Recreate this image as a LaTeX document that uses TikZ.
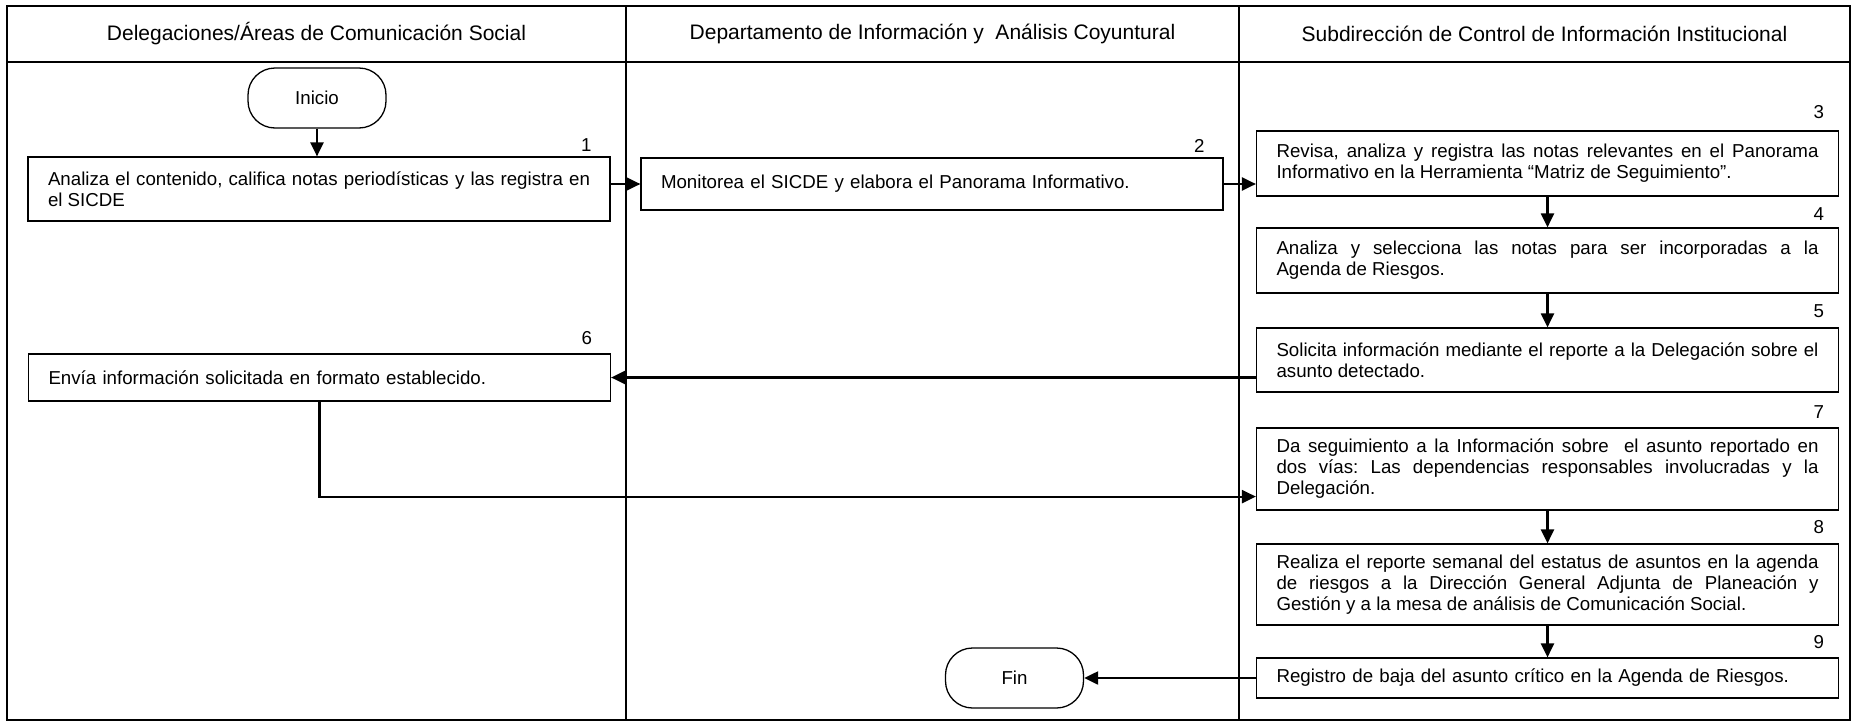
\documentclass[tikz,border=0pt]{standalone}
\usepackage{fontspec}
\setmainfont{Liberation Sans}
\usetikzlibrary{arrows.meta,calc}
\hyphenpenalty=10000
\exhyphenpenalty=10000
\frenchspacing
\newcommand\stepfont{\fontsize{18.7}{21}\selectfont}
\newcommand\headfont{\fontsize{21}{24}\selectfont}

\tikzset{
  lane/.style={line width=1.4pt, line cap=rect},
  head/.style={font=\headfont, inner sep=0pt},
  stepbox/.style={draw, line width=1.2pt, font=\stepfont, text width=542pt,
    inner xsep=20pt, inner ysep=0pt, align=justify},
  onebox/.style={stepbox, align=left},
  term/.style={draw, line width=1.3pt, rounded corners=27pt, font=\stepfont,
    minimum width=138pt, minimum height=60pt, inner sep=0pt},
  num/.style={font=\stepfont, inner sep=0pt, anchor=base east},
  arr/.style={line width=2.2pt, -{Triangle[length=14pt,width=13pt]}}
}

\begin{document}
\begin{tikzpicture}[x=1pt, y=-1pt]
  \fill[white] (0,0) rectangle (1856,726);
  \useasboundingbox (0,0) rectangle (1856,726);

  % swimlane frame
  \draw[lane] (7,6) rectangle (1850,720);
  \draw[lane] (7,62) -- (1850,62);
  \draw[lane] (626,6) -- (626,720);
  \draw[lane] (1239,6) -- (1239,720);

  % lane titles
  \node[head] (h1) at (316.5,34) {Delegaciones/Áreas de Comunicación Social};
  \node[head] (h2) at (932.5,34) {Departamento de Información y~ Análisis Coyuntural};
  \node[head] (h3) at (1544.5,34) {Subdirección de Control de Información Institucional};

  % terminals
  \node[term] (ini) at (317,98) {Inicio};
  \node[term] (fin) at (1014.5,678) {Fin};

  % process steps
  \node[stepbox, minimum height=64pt] (b1) at (319,189)
    {Analiza el contenido, califica notas periodísticas y las registra en\linebreak el SICDE};
  \node[onebox, minimum height=52pt] (b2) at (932,184)
    {Monitorea el SICDE y elabora el Panorama Informativo.};
  \node[stepbox, minimum height=65pt] (b3) at (1547.5,163.5)
    {Revisa, analiza y registra las notas relevantes en el Panorama\linebreak Informativo en la Herramienta “Matriz de Seguimiento”.};
  \node[stepbox, minimum height=65pt] (b4) at (1547.5,260.5)
    {Analiza y selecciona las notas para ser incorporadas a la\linebreak Agenda de Riesgos.};
  \node[stepbox, minimum height=64pt] (b5) at (1547.5,360)
    {Solicita información mediante el reporte a la Delegación sobre el\linebreak asunto detectado.};
  \node[onebox, minimum height=47pt] (b6) at (319.5,377.5)
    {Envía información solicitada en formato establecido.};
  \node[stepbox, minimum height=82pt] (b7) at (1547.5,469)
    {Da seguimiento a la Información sobre~ el asunto reportado en\linebreak dos vías: Las dependencias responsables involucradas y la\linebreak Delegación.};
  \node[stepbox, minimum height=81pt] (b8) at (1547.5,584.5)
    {Realiza el reporte semanal del estatus de asuntos en la agenda\linebreak de riesgos a la Dirección General Adjunta de Planeación y\linebreak Gestión y a la mesa de análisis de Comunicación Social.};
  \node[onebox, minimum height=40pt] (b9) at (1547.5,678)
    {Registro de baja del asunto crítico en la Agenda de Riesgos.};

  % step numbers
  \node[num] (n1) at ($(b1.north east)+(-19pt,5pt)$) {1};
  \node[num] (n2) at ($(b2.north east)+(-19pt,5pt)$) {2};
  \node[num] (n3) at ($(b3.north east)+(-15pt,12pt)$) {3};
  \node[num] (n4) at ($(b4.north east)+(-15pt,7pt)$) {4};
  \node[num] (n5) at ($(b5.north east)+(-15pt,10pt)$) {5};
  \node[num] (n6) at ($(b6.north east)+(-19pt,9pt)$) {6};
  \node[num] (n7) at ($(b7.north east)+(-15pt,9pt)$) {7};
  \node[num] (n8) at ($(b8.north east)+(-15pt,10pt)$) {8};
  \node[num] (n9) at ($(b9.north east)+(-15pt,9pt)$) {9};

  % connectors
  \coordinate (k7) at ($(b7.south west)+(0pt,14pt)$);
  \draw[arr] (ini.south) -- (ini.south |- b1.north);
  \draw[arr] (b2.west -| b1.east) -- (b2.west);
  \draw[arr] (b2.east) -- (b2.east -| b3.west);
  \draw[arr] (b3.south) -- (b4.north);
  \draw[arr] (b4.south) -- (b5.north);
  \draw[arr] (b6.east -| b5.west) -- (b6.east);
  \draw[arr] (b6.south) |- (k7);
  \draw[arr] (b7.south) -- (b8.north);
  \draw[arr] (b8.south) -- (b9.north);
  \draw[arr] (b9.west) -- (b9.west -| fin.east);
\end{tikzpicture}
\end{document}
